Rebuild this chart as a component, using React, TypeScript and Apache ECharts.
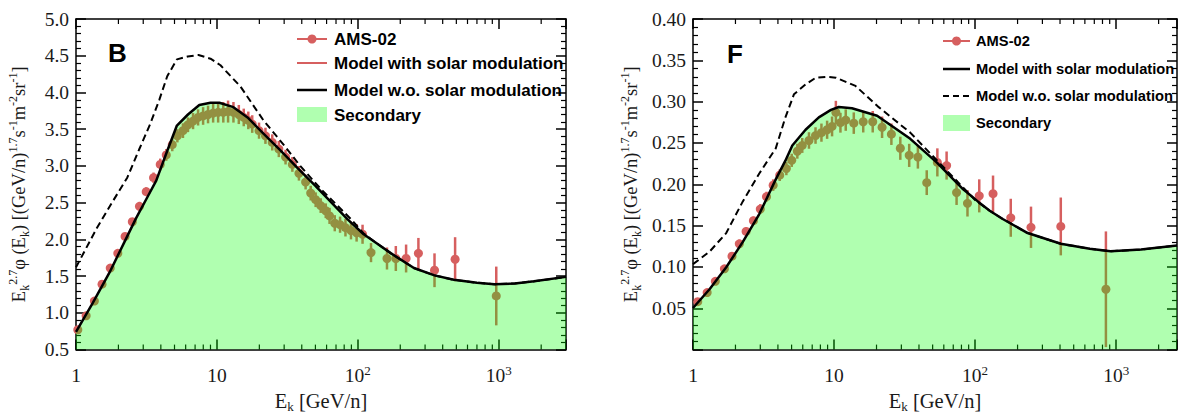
import React, { useEffect, useRef } from "react";
import * as echarts from "echarts";

// ---------- Panel B ----------
const bAmsEnergy = [1.03, 1.18, 1.35, 1.53, 1.75, 1.98, 2.23, 2.51, 2.82, 3.15, 3.55, 3.96, 4.37, 4.82, 5.24, 5.74, 6.23, 6.77, 7.35, 7.98, 8.65, 9.4, 10.2, 11.1, 12.0, 13.1, 14.3, 15.5, 16.7, 17.8, 19.9, 22.1, 24.7, 27.5, 30.7, 34.3, 38.2, 42.6, 46.3, 50.2, 54.5, 59.2, 63.0, 68.6, 74.8, 81.7, 89.4, 98, 108, 124, 161, 186, 220, 269, 350, 490, 960];
const bAmsValue = [0.77, 0.96, 1.16, 1.39, 1.61, 1.81, 2.04, 2.24, 2.45, 2.65, 2.84, 3.02, 3.15, 3.29, 3.41, 3.48, 3.56, 3.61, 3.66, 3.68, 3.70, 3.72, 3.73, 3.73, 3.74, 3.73, 3.70, 3.66, 3.62, 3.57, 3.48, 3.41, 3.32, 3.23, 3.12, 3.02, 2.90, 2.78, 2.63, 2.54, 2.46, 2.39, 2.32, 2.22, 2.20, 2.16, 2.12, 2.09, 2.07, 1.82, 1.74, 1.74, 1.74, 1.81, 1.58, 1.73, 1.23];
const bAmsError = [0.03, 0.03, 0.03, 0.04, 0.04, 0.05, 0.05, 0.05, 0.06, 0.06, 0.07, 0.08, 0.08, 0.09, 0.09, 0.10, 0.10, 0.11, 0.11, 0.12, 0.12, 0.13, 0.14, 0.14, 0.15, 0.14, 0.13, 0.12, 0.12, 0.12, 0.11, 0.11, 0.11, 0.11, 0.10, 0.10, 0.10, 0.10, 0.10, 0.10, 0.10, 0.10, 0.11, 0.11, 0.11, 0.12, 0.12, 0.12, 0.13, 0.13, 0.15, 0.17, 0.19, 0.21, 0.23, 0.30, 0.40];
const bModelEnergy = [1, 1.31, 1.73, 2.2, 2.67, 3.2, 3.71, 4.37, 5.2, 6.23, 7.5, 9, 10.4, 13.1, 16.5, 21.4, 28, 37.4, 50, 64.3, 85, 110, 140, 172, 250, 350, 480, 700, 930, 1300, 1780, 3000];
const bModelValue = [0.74, 1.13, 1.55, 1.96, 2.29, 2.57, 2.80, 3.17, 3.55, 3.70, 3.83, 3.86, 3.86, 3.80, 3.66, 3.44, 3.22, 2.97, 2.73, 2.51, 2.27, 2.07, 1.93, 1.81, 1.61, 1.51, 1.45, 1.41, 1.39, 1.40, 1.43, 1.49];
const bNoModEnergy = [1, 1.41, 1.8, 2.31, 2.8, 3.36, 3.9, 4.44, 5.2, 6.2, 7.4, 9, 10.6, 14.7, 21.4, 30, 39, 55, 70, 90, 110, 140, 172, 250, 350, 480, 700, 930, 1300, 1780, 3000];
const bNoModValue = [1.62, 2.16, 2.50, 2.84, 3.22, 3.57, 3.90, 4.22, 4.45, 4.49, 4.51, 4.46, 4.37, 4.08, 3.62, 3.28, 3.00, 2.68, 2.48, 2.27, 2.08, 1.93, 1.81, 1.61, 1.51, 1.45, 1.41, 1.39, 1.40, 1.43, 1.49];

// ---------- Panel F ----------
const fAmsEnergy = [1.08, 1.26, 1.44, 1.67, 1.89, 2.13, 2.38, 2.68, 3.0, 3.32, 3.70, 4.12, 4.59, 5.01, 5.49, 5.95, 6.64, 7.39, 8.14, 8.93, 9.68, 10.3, 11.1, 12.1, 13.8, 16.1, 18.8, 21.9, 25.5, 29.5, 34.1, 39.3, 45.4, 54, 62.8, 73.9, 88.3, 107, 134, 179, 249, 405, 846];
const fAmsValue = [0.058, 0.069, 0.0826, 0.0977, 0.113, 0.128, 0.143, 0.156, 0.170, 0.185, 0.199, 0.211, 0.219, 0.229, 0.240, 0.247, 0.253, 0.259, 0.2625, 0.266, 0.270, 0.287, 0.2745, 0.2777, 0.274, 0.2757, 0.2757, 0.269, 0.2606, 0.2436, 0.235, 0.233, 0.202, 0.2265, 0.2227, 0.190, 0.177, 0.186, 0.1886, 0.1595, 0.148, 0.149, 0.073];
const fAmsError = [0.003, 0.003, 0.004, 0.004, 0.004, 0.005, 0.005, 0.005, 0.006, 0.006, 0.007, 0.007, 0.008, 0.008, 0.009, 0.009, 0.010, 0.010, 0.011, 0.011, 0.012, 0.014, 0.012, 0.013, 0.013, 0.013, 0.013, 0.013, 0.013, 0.014, 0.014, 0.014, 0.015, 0.017, 0.017, 0.015, 0.016, 0.020, 0.022, 0.023, 0.025, 0.035, 0.070];
const fModelEnergy = [1, 1.31, 1.72, 2.25, 2.95, 3.86, 4.5, 5.06, 6.28, 7.8, 9.5, 10.8, 13.4, 20.2, 34.7, 53.4, 82.3, 105, 127, 157, 236, 405, 650, 912, 1500, 2700];
const fModelValue = [0.0503, 0.073, 0.0996, 0.130, 0.164, 0.206, 0.228, 0.247, 0.266, 0.281, 0.290, 0.2935, 0.292, 0.283, 0.255, 0.2265, 0.194, 0.179, 0.168, 0.158, 0.141, 0.128, 0.122, 0.119, 0.121, 0.126];
const fNoModEnergy = [1, 1.31, 1.72, 2.25, 2.95, 3.86, 4.5, 5.2, 6.3, 7.43, 8.8, 10.3, 14.2, 20.5, 34.7, 59.5, 100, 127, 157, 236, 405, 650, 912, 1500, 2700];
const fNoModValue = [0.1034, 0.1185, 0.141, 0.179, 0.213, 0.2435, 0.28, 0.309, 0.321, 0.329, 0.330, 0.329, 0.319, 0.294, 0.2625, 0.221, 0.181, 0.168, 0.158, 0.141, 0.128, 0.122, 0.119, 0.121, 0.126];

// ---------- Axes ----------
const xMajorLabels: Record<number, string> = { 1: "{t|1}", 10: "{t|10}", 100: "{t|10}{p|2}", 1000: "{t|10}{p|3}" };
const xDecades = [1, 10, 100, 1000];
const xMinorMultipliers = [2, 3, 4, 5, 6, 7, 8, 9];
const legendLabels = ["AMS-02", "Model with solar modulation", "Model w.o. solar modulation", "Secondary"];

const RED = "#d65f5f";
const GREEN = "rgba(0,255,0,0.31)";
const SERIF = "'Liberation Serif', 'Times New Roman', serif";
const SANS = "'Liberation Sans', Arial, sans-serif";
const TXT = "#1a1a1a";

const zip = (a: number[], b: number[]) => a.map((v, i) => [v, b[i]]);

function minorTicks(max: number) {
  const out: number[] = [];
  xDecades.forEach((d) => xMinorMultipliers.forEach((m) => { if (d * m < max) out.push(d * m); }));
  return out;
}

const serifRich = {
  t: { fontFamily: SERIF, fontSize: 19.5, color: TXT, lineHeight: 22, verticalAlign: "bottom" },
  p: { fontFamily: SERIF, fontSize: 13, color: TXT, lineHeight: 12, verticalAlign: "top" },
  s: { fontFamily: SERIF, fontSize: 13, color: TXT, lineHeight: 12, verticalAlign: "bottom" },
};
const yNameRich = {
  t: { fontFamily: SERIF, fontSize: 18.5, color: TXT, lineHeight: 24, verticalAlign: "middle" },
  p: { fontFamily: SERIF, fontSize: 12, color: TXT, lineHeight: 12, verticalAlign: "top" },
  s: { fontFamily: SERIF, fontSize: 12, color: TXT, lineHeight: 12, verticalAlign: "bottom" },
};
const xNameRich = {
  t: { fontFamily: SERIF, fontSize: 20.5, color: TXT, lineHeight: 24, verticalAlign: "middle" },
  s: { fontFamily: SERIF, fontSize: 13, color: TXT, lineHeight: 12, verticalAlign: "bottom" },
};

const yName = "{t|E}{s|k}{p|2.7}{t|φ (E}{s|k}{t|) [(GeV/n)}{p|1.7}{t|s}{p|-1}{t|m}{p|-2}{t|sr}{p|-1}{t|]}";
const xName = "{t|E}{s|k}{t| [GeV/n]}";

function makeX(grid: number, max: number, top: boolean) {
  return {
    gridIndex: grid, type: "log", logBase: 10, min: 1, max,
    position: top ? "top" : "bottom",
    axisLine: { show: true, onZero: false, lineStyle: { color: "#000", width: 1.5 } },
    axisTick: { show: true, inside: true, length: 10, lineStyle: { color: "#000", width: 1.5 } },
    axisLabel: top ? { show: false } : {
      show: true, margin: 14, fontFamily: SERIF, fontSize: 19.5,
      formatter: (v: number) => xMajorLabels[Math.round(v)] ?? "",
      rich: serifRich,
    },
    splitLine: { show: false },
    ...(top ? {} : { name: xName, nameLocation: "middle", nameGap: 33, nameTextStyle: { fontFamily: SERIF, rich: xNameRich } }),
  };
}

function makeY(grid: number, min: number, max: number, interval: number, digits: number, right: boolean, gap: number) {
  return {
    gridIndex: grid, type: "value", min, max, interval,
    position: right ? "right" : "left",
    axisLine: { show: true, onZero: false, lineStyle: { color: "#000", width: 1.5 } },
    axisTick: { show: true, inside: true, length: 10, lineStyle: { color: "#000", width: 1.5 } },
    minorTick: { show: true, splitNumber: 5, length: 5, lineStyle: { color: "#000", width: 1.2 } },
    axisLabel: right ? { show: false } : {
      show: true, margin: 7, showMinLabel: min > 0,
      formatter: (v: number) => v.toFixed(digits),
      fontFamily: SERIF, fontSize: 19.5, color: TXT,
    },
    splitLine: { show: false },
    minorSplitLine: { show: false },
    ...(right ? {} : { name: yName, nameLocation: "middle", nameRotate: 90, nameGap: gap, nameTextStyle: { fontFamily: SERIF, rich: yNameRich } }),
  };
}

function panelSeries(idx: number, yMin: number, yMax: number, xMax: number,
  amsE: number[], amsV: number[], amsErr: number[], modE: number[], modV: number[], noE: number[], noV: number[]) {
  const ax = { xAxisIndex: idx * 2, yAxisIndex: idx * 2 };
  return [
    {
      type: "custom", ...ax, z: 1, silent: true,
      data: minorTicks(xMax).map((v) => [v, yMin]),
      encode: { x: 0, y: 1 },
      renderItem: (_p: any, api: any) => {
        const v = api.value(0);
        const b = api.coord([v, yMin]);
        const t = api.coord([v, yMax]);
        return {
          type: "group", children: [
            { type: "line", shape: { x1: b[0], y1: b[1], x2: b[0], y2: b[1] - 5 }, style: { stroke: "#000", lineWidth: 1.2 } },
            { type: "line", shape: { x1: t[0], y1: t[1], x2: t[0], y2: t[1] + 5 }, style: { stroke: "#000", lineWidth: 1.2 } },
          ],
        };
      },
    },
    {
      type: "custom", name: "AMS-02", ...ax, z: 2, silent: true,
      data: amsE.map((e, i) => [e, amsV[i], amsErr[i]]),
      encode: { x: 0, y: 1 },
      renderItem: (_p: any, api: any) => {
        const e = api.value(0), v = api.value(1), er = api.value(2);
        const c = api.coord([e, v]);
        const hi = api.coord([e, v + er]);
        const lo = api.coord([e, Math.max(v - er, yMin)]);
        return {
          type: "group", children: [
            { type: "line", shape: { x1: c[0], y1: lo[1], x2: c[0], y2: hi[1] }, style: { stroke: RED, lineWidth: 2.5 } },
            { type: "circle", shape: { cx: c[0], cy: c[1], r: 4.5 }, style: { fill: RED } },
          ],
        };
      },
    },
    {
      type: "line", name: "Secondary", ...ax, z: 3, silent: true,
      data: zip(modE, modV), showSymbol: false, smooth: false,
      lineStyle: { width: 0, opacity: 0 },
      areaStyle: { color: GREEN, opacity: 1 },
    },
    {
      type: "line", name: "Model w.o. solar modulation", ...ax, z: 4, silent: true,
      data: zip(noE, noV), showSymbol: false,
      lineStyle: { color: "#000", width: 2, type: [7, 4] },
    },
    {
      type: "line", name: "Model with solar modulation", ...ax, z: 5, silent: true,
      data: zip(modE, modV), showSymbol: false,
      lineStyle: { color: "#000", width: 2.5 },
    },
  ];
}

function legend(x: number, rows: number[], textX: number, lineEnd: number, fontSize: number, boxTop: number, boxH: number, styles: any[]) {
  const els: any[] = [];
  rows.forEach((y, i) => {
    const st = styles[i];
    if (st.kind === "box") {
      els.push({ type: "rect", shape: { x, y: boxTop, width: lineEnd - x, height: boxH }, style: { fill: GREEN } });
    } else {
      els.push({ type: "line", shape: { x1: x, y1: y, x2: lineEnd, y2: y }, style: { stroke: st.color, lineWidth: st.width, lineDash: st.dash } });
      if (st.dot) els.push({ type: "circle", shape: { cx: (x + lineEnd) / 2, cy: y, r: 4.5 }, style: { fill: st.color } });
    }
    els.push({
      type: "text", x: textX, y,
      style: { text: legendLabels[i], fontFamily: SANS, fontWeight: "bold", fontSize, fill: "#000", verticalAlign: "middle" },
    });
  });
  return els;
}

export default function App() {
  const ref = useRef<HTMLDivElement>(null);
  useEffect(() => {
    if (!ref.current) return;
    const chart = echarts.init(ref.current, undefined, { renderer: "svg" });
    const option: any = {
      animation: false,
      backgroundColor: "#fff",
      textStyle: { fontFamily: SERIF },
      grid: [
        { left: 76, top: 19, width: 490, height: 351 },
        { left: 693, top: 19, width: 486, height: 351 },
      ],
      xAxis: [
        makeX(0, 3000, false), makeX(0, 3000, true),
        makeX(1, 2700, false), makeX(1, 2700, true),
      ],
      yAxis: [
        makeY(0, 0.5, 5, 0.5, 1, false, 45), makeY(0, 0.5, 5, 0.5, 1, true, 0),
        makeY(1, 0, 0.4, 0.05, 2, false, 50), makeY(1, 0, 0.4, 0.05, 2, true, 0),
      ],
      series: [
        ...panelSeries(0, 0.5, 5, 3000, bAmsEnergy, bAmsValue, bAmsError, bModelEnergy, bModelValue, bNoModEnergy, bNoModValue),
        ...panelSeries(1, 0, 0.4, 2700, fAmsEnergy, fAmsValue, fAmsError, fModelEnergy, fModelValue, fNoModEnergy, fNoModValue),
      ],
      graphic: [
        { type: "text", x: 108, y: 53, style: { text: "B", fontFamily: SANS, fontWeight: "bold", fontSize: 26, fill: "#000", verticalAlign: "middle" } },
        { type: "text", x: 727, y: 54, style: { text: "F", fontFamily: SANS, fontWeight: "bold", fontSize: 26, fill: "#000", verticalAlign: "middle" } },
        ...legend(297, [39, 63, 90, 115], 334, 327, 17, 107, 15, [
          { color: RED, width: 2, dot: true },
          { color: RED, width: 2 },
          { color: "#000", width: 2.5 },
          { kind: "box" },
        ]),
        ...legend(943, [41, 69, 96, 123], 976, 970, 14.7, 115, 16, [
          { color: RED, width: 2, dot: true },
          { color: "#000", width: 2.5 },
          { color: "#000", width: 2, dash: [6, 4] },
          { kind: "box" },
        ]),
      ],
    };
    chart.setOption(option);
    return () => chart.dispose();
  }, []);
  return <div ref={ref} style={{ position: "absolute", left: 0, top: 0, width: 1180, height: 418 }} />;
}
